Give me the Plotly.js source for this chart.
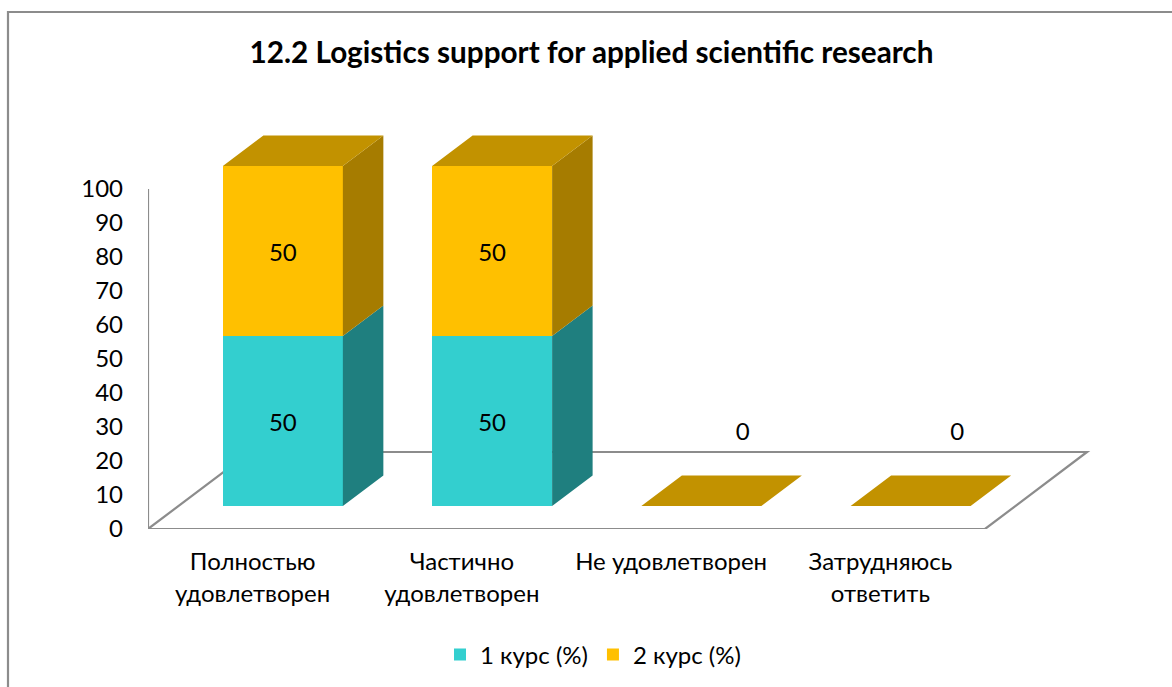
<!DOCTYPE html>
<html>
<head>
<meta charset="utf-8">
<script src="https://cdn.plot.ly/plotly-3.0.1.min.js"></script>
<style>html,body{margin:0;padding:0;background:#fff;overflow:hidden}</style>
</head>
<body>
<div id="chart" style="width:1172px;height:687px"></div>
<script>
// ---- data ----
const chartTitle = "12.2 Logistics support for applied scientific research";
const categories = ["Полностью<br>удовлетворен", "Частично<br>удовлетворен", "Не удовлетворен", "Затрудняюсь<br>ответить"];
const seriesOneName = "1 курс (%)";
const seriesTwoName = "2 курс (%)";
const seriesOne = [50, 50, 0, 0];
const seriesTwo = [50, 50, 0, 0];
const yTicks = [0, 10, 20, 30, 40, 50, 60, 70, 80, 90, 100];

// ---- styles and pseudo-3D geometry (in axis units) ----
const FONT = "Lato, 'Open Sans', sans-serif";
const TEAL = "#33CFCF", TEAL_SIDE = "#1F7F7F";
const GOLD = "#FFC000", GOLD_SIDE = "#A67C00", GOLD_TOP = "#C29200";
const GRID = "#8c8c8c";
const W = 1172, H = 687, L = 148, R = 1100, T = 119, B = 529;
const UX = 209.25, UY = 3.4;               // pixels per axis unit
const xMin = -0.5, xMax = xMin + (R - L) / UX, yMax = (B - T) / UY;
const barShift = 0.1445, barWidth = 120 / UX, lift = 23 / UY;
const depthX = 40.5 / UX, depthY = 30.5 / UY;
const floorX = 102 / UX, floorY = 77 / UY;
const zeroLabelShift = [0.34, 0.34, 0.342, 0.367];
const zeroLabelY = 28.0;
const xs = categories.map((_, i) => i + barShift);

function sideFaces(bases, values) {
  const x = [], y = [];
  xs.forEach((c, i) => {
    if (values[i] <= 0) return;
    const r = c + barWidth / 2, b = bases[i] + lift, t = b + values[i];
    x.push(r, r + depthX, r + depthX, r, null);
    y.push(b, b + depthY, t + depthY, t, null);
  });
  return {x, y};
}
function topFaces() {
  const x = [], y = [];
  xs.forEach((c, i) => {
    const l = c - barWidth / 2, r = c + barWidth / 2, t = seriesOne[i] + seriesTwo[i] + lift;
    x.push(l, l + depthX, r + depthX, r, null);
    y.push(t, t + depthY, t + depthY, t, null);
  });
  return {x, y};
}
const face = (geo, color) => ({
  type: "scatter", mode: "lines", x: geo.x, y: geo.y, fill: "toself", fillcolor: color,
  line: {width: 0, color: color}, showlegend: false, hoverinfo: "skip"
});
const bars = (name, vals, base, color) => ({
  type: "bar", name: name, x: xs, y: vals, base: base, width: barWidth,
  marker: {color: color, line: {width: 0}},
  text: vals.map(v => v > 0 ? String(v) : ""), textposition: "inside", insidetextanchor: "middle",
  textangle: 0, constraintext: "none",
  textfont: {family: FONT, size: 24, color: "#000"}, cliponaxis: false
});

const baseOne = seriesOne.map(() => lift);
const baseTwo = seriesOne.map(v => v + lift);
const zeroIdx = categories.map((_, i) => i).filter(i => seriesOne[i] + seriesTwo[i] === 0);

const traces = [
  bars(seriesOneName, seriesOne, baseOne, TEAL),
  bars(seriesTwoName, seriesTwo, baseTwo, GOLD),
  face(sideFaces(seriesOne.map(() => 0), seriesOne), TEAL_SIDE),
  face(sideFaces(seriesOne, seriesTwo), GOLD_SIDE),
  face(topFaces(), GOLD_TOP),
  {type: "scatter", mode: "text", showlegend: false, hoverinfo: "skip",
   x: zeroIdx.map(i => i + zeroLabelShift[i]), y: zeroIdx.map(() => zeroLabelY),
   text: zeroIdx.map(i => String(seriesOne[i] + seriesTwo[i])),
   textposition: "middle center", textfont: {family: FONT, size: 24, color: "#000"}}
];

const fx = px => (px - L) / (R - L), fy = py => (B - py) / (B - T);
const line = {color: GRID, width: 2.2};
const x0 = xMin, x1 = xMin + 4;
const shapes = [
  {type: "path", xref: "x", yref: "y", layer: "below", line: line, fillcolor: "#fff",
   path: `M${x0},0 L${x1},0 L${x1 + floorX},${floorY} L${x0 + floorX},${floorY} Z`},
  {type: "line", xref: "x", yref: "y", layer: "below", line: line, x0: x0, x1: x0, y0: 0, y1: 100},
  {type: "path", xref: "paper", yref: "paper", layer: "below", line: line,
   path: `M${fx(1172)},${fy(12)} L${fx(8)},${fy(12)} L${fx(8)},${fy(687)}`}
];

const tickSpan = t => t.split("<br>").map(s => `<span style="font-size:24px">${s}</span>`).join("<br>");

Plotly.newPlot("chart", traces, {
  width: W, height: H, autosize: false,
  margin: {l: L, r: W - R, t: T, b: H - B, pad: 0},
  paper_bgcolor: "#fff", plot_bgcolor: "rgba(0,0,0,0)",
  barmode: "overlay", bargap: 0,
  title: {text: "<b>" + chartTitle + "</b>", x: 591.5 / W, xref: "container", xanchor: "center",
          y: 1 - 53 / H, yanchor: "middle", font: {family: FONT, size: 29.7, color: "#000"}},
  xaxis: {range: [xMin, xMax], tickmode: "array", tickvals: categories.map((_, i) => i),
          ticktext: categories.map(tickSpan), tickangle: 0, showgrid: false, zeroline: false,
          showline: false, ticks: "", ticklabelstandoff: 15,
          tickfont: {family: FONT, size: 24.6, color: "#000"}},
  yaxis: {range: [0, yMax], tickmode: "array", tickvals: yTicks, showgrid: false, zeroline: false,
          showline: false, ticks: "", ticklabelstandoff: 24,
          tickfont: {family: FONT, size: 24, color: "#000"}},
  legend: {orientation: "h", xref: "container", yref: "container", x: 593 / W, xanchor: "center",
           y: 1 - 655 / H, yanchor: "middle",
           font: {family: FONT, size: 24, color: "#000"}, bgcolor: "rgba(0,0,0,0)"},
  shapes: shapes
}, {displayModeBar: false, staticPlot: true});
</script>
</body>
</html>
